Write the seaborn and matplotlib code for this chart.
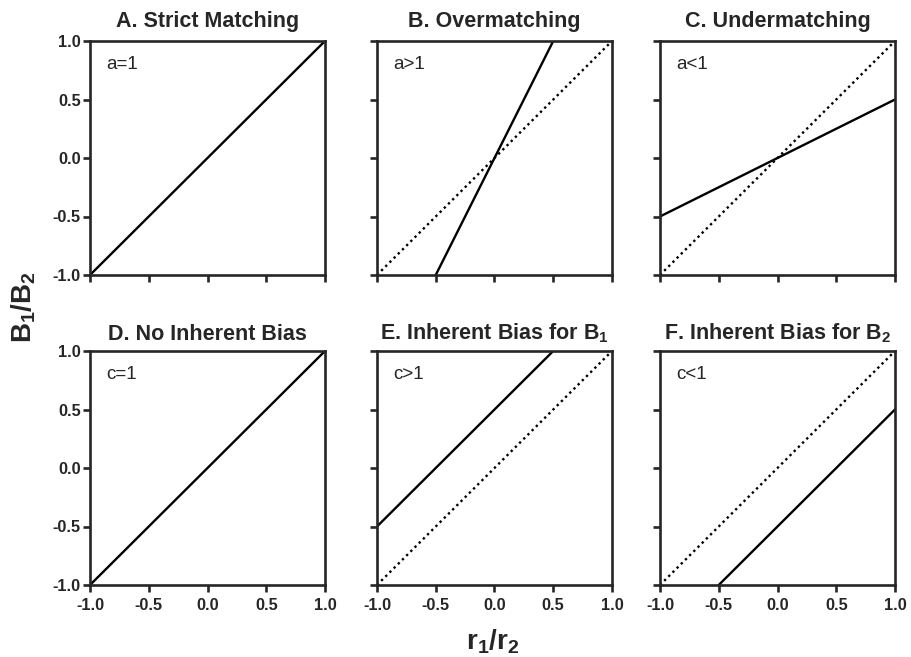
import matplotlib
matplotlib.use("Agg")
import matplotlib.pyplot as plt
import seaborn as sns
import pandas as pd

# panel titles, annotations and line endpoints (x, y)
titles = ["A. Strict Matching", "B. Overmatching", "C. Undermatching",
          "D. No Inherent Bias", r"E. Inherent Bias for $\mathbf{B_1}$",
          r"F. Inherent Bias for $\mathbf{B_2}$"]
notes = ["a=1", "a>1", "a<1", "c=1", "c>1", "c<1"]
line_x = [[-1.0, 1.0], [-0.5, 0.5], [-1.0, 1.0],
          [-1.0, 1.0], [-1.0, 0.5], [-0.5, 1.0]]
line_y = [[-1.0, 1.0], [-1.0, 1.0], [-0.5, 0.5],
          [-1.0, 1.0], [-0.5, 1.0], [-1.0, 0.5]]
has_ref = [False, True, True, False, True, True]
ref_x = [-1.0, 1.0]
ref_y = [-1.0, 1.0]
ticks = [-1.0, -0.5, 0.0, 0.5, 1.0]

sns.set_style("ticks")
plt.rcParams['font.family'] = ['Liberation Sans', 'DejaVu Sans']
plt.rcParams['mathtext.fontset'] = 'custom'
plt.rcParams['mathtext.rm'] = 'Liberation Sans'
plt.rcParams['mathtext.bf'] = 'Liberation Sans:bold'
plt.rcParams['mathtext.it'] = 'Liberation Sans:italic'

fig = plt.figure(figsize=(9.12, 6.57), dpi=100)
lefts = [90 / 912, 377 / 912, 660 / 912]
bottoms = [1 - 275 / 657, 1 - 585 / 657]
w, h = 235 / 912, 234 / 657

for i in range(6):
    row, col = divmod(i, 3)
    ax = fig.add_axes([lefts[col], bottoms[row], w, h])
    if has_ref[i]:
        ref = pd.DataFrame({"x": ref_x, "y": ref_y})
        sns.lineplot(data=ref, x="x", y="y", ax=ax, color="black",
                     linestyle=(0, (1, 1.5)), linewidth=1.7)
    df = pd.DataFrame({"x": line_x[i], "y": line_y[i]})
    sns.lineplot(data=df, x="x", y="y", ax=ax, color="black", linewidth=1.7)
    ax.set_xlim(-1, 1)
    ax.set_ylim(-1, 1)
    ax.set_xticks(ticks)
    ax.set_yticks(ticks)
    ax.set_xticklabels([f"{t:.1f}" for t in ticks] if row == 1 else [])
    ax.set_yticklabels([f"{t:.1f}" for t in ticks] if col == 0 else [])
    ax.set_xlabel("")
    ax.set_ylabel("")
    for s in ax.spines.values():
        s.set_linewidth(1.9)
        s.set_visible(True)
    ax.tick_params(width=1.9, length=5, labelsize=11.8)
    ax.tick_params(axis="x", pad=4)
    ax.tick_params(axis="y", pad=1.5)
    for lab in ax.get_xticklabels() + ax.get_yticklabels():
        lab.set_fontweight("bold")
    ax.set_title(titles[i], fontsize=15.5, fontweight="bold",
                 pad=10 if row == 0 else 8)
    ax.text(0.07, 0.9, notes[i], transform=ax.transAxes, fontsize=13.5,
            va="center", ha="left")

fig.text(24 / 912, 1 - 307 / 657, r"$\mathbf{B_1/B_2}$", rotation=90,
         fontsize=20, ha="center", va="center")
fig.text(493 / 912, 1 - 642 / 657, r"$\mathbf{r_1/r_2}$",
         fontsize=20, ha="center", va="center")

fig.savefig("out.png", dpi=100)
